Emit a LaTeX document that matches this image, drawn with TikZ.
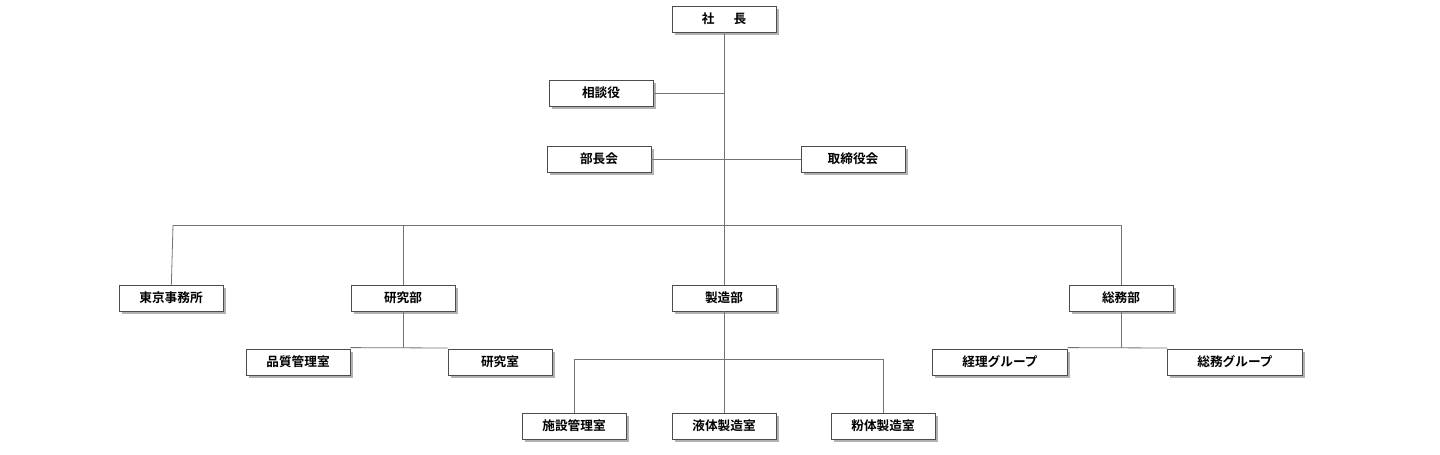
\documentclass[tikz,border=0pt]{standalone}
\usepackage{fontspec}
\setmainfont{Noto Sans CJK JP Bold}
\usetikzlibrary{shadows}
\begin{document}
\begin{tikzpicture}[x=0.75pt,y=-0.75pt,
 box/.style={draw=black!70,line width=0.6pt,fill=white,minimum width=78pt,minimum height=19.5pt,inner sep=1pt,font=\fontsize{9.5pt}{10pt}\selectfont,drop shadow={shadow xshift=2pt,shadow yshift=-2pt,fill=black!60}},
 wbox/.style={box,minimum width=101pt},
 ln/.style={draw=black!55,line width=0.6pt}]
\useasboundingbox (0,0) rectangle (1440,454);
\coordinate (j1) at (724,93); \coordinate (j2) at (724,159); \coordinate (j3) at (724,225);
\coordinate (h1) at (173,225); \coordinate (h2) at (403,225); \coordinate (h3) at (1121,225);
\coordinate (k1) at (403,348); \coordinate (k2) at (298,348); \coordinate (k3) at (500,348);
\coordinate (m1) at (724,359); \coordinate (m2) at (574,359); \coordinate (m3) at (883,359);
\coordinate (n1) at (1121,348); \coordinate (n2) at (1000,348); \coordinate (n3) at (1235,348);
\node[box] (ceo) at (724,19) {社\hspace{1.5em}長};
\node[box] (sd) at (601,93) {相談役};
\node[box] (bc) at (599,159) {部長会};
\node[box] (tr) at (853,159) {取締役会};
\node[box] (tk) at (171,298) {東京事務所};
\node[box] (kk) at (403,298) {研究部};
\node[box] (sz) at (724,298) {製造部};
\node[box] (sm) at (1121,298) {総務部};
\node[box] (hq) at (298,362) {品質管理室};
\node[box] (ks) at (500,362) {研究室};
\node[box] (sk) at (574,426) {施設管理室};
\node[box] (ek) at (724,426) {液体製造室};
\node[box] (fn) at (883,426) {粉体製造室};
\node[wbox] (kr) at (1000,362) {経理グループ};
\node[wbox] (sg) at (1235,362) {総務グループ};
\path[ln] (ceo) -- (sz.north);
\path[ln] (sd) -- (j1); \path[ln] (bc) -- (tr);
\path[ln] (h1) -- (h3); \path[ln] (h1) -- (tk); \path[ln] (h2) -- (kk); \path[ln] (h3) -- (sm);
\path[ln] (kk) -- (k1); \path[ln] (hq.north east) ++(0,-1) -- (ks.north west |- k1);
\path[ln] (sz) -- (ek); \path[ln] (m2) -- (m3); \path[ln] (m2) -- (sk); \path[ln] (m3) -- (fn);
\path[ln] (sm) -- (n1); \path[ln] (kr.north east) ++(0,-1) -- (sg.north west |- n1);
\end{tikzpicture}
\end{document}
